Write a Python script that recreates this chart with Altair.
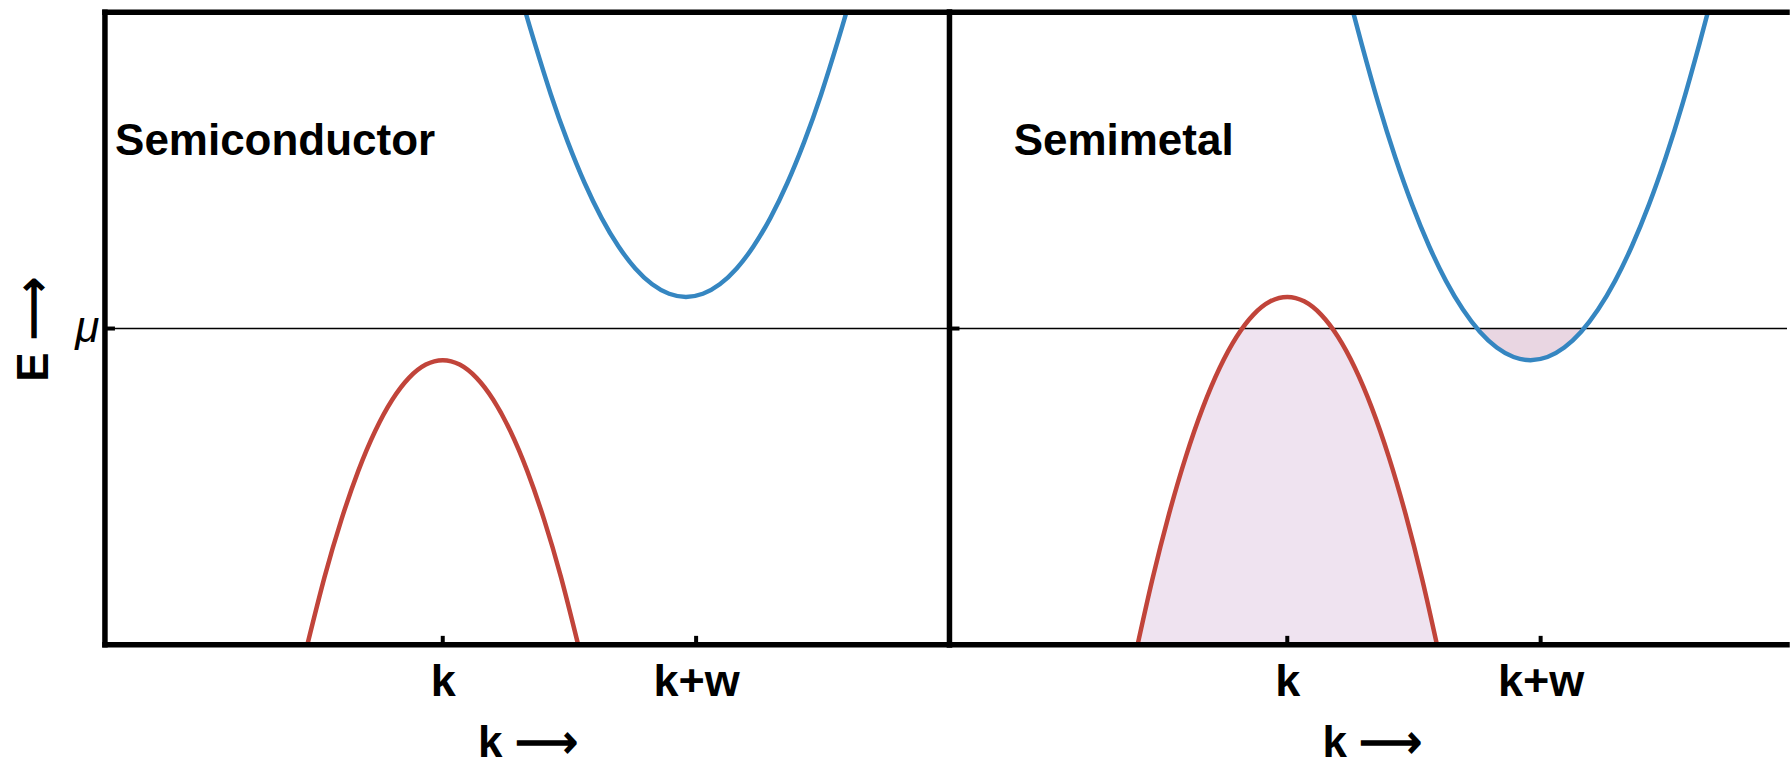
import altair as alt
import pandas as pd

# Band edges E(k) around the chemical potential mu = 0.
# k axis: k at 0, k+w at 1.5; energies span -1..1 in each panel.
sc_cond_k = [0.49, 0.54, 0.64, 0.74, 0.84, 0.94, 1.04, 1.14, 1.24, 1.34, 1.44,
             1.54, 1.64, 1.74, 1.84, 1.94, 2.04, 2.14, 2.24, 2.34, 2.39]
sc_cond_E = [1.00, 0.91, 0.74, 0.59, 0.46, 0.35, 0.26, 0.19, 0.14, 0.11, 0.10,
             0.11, 0.14, 0.19, 0.26, 0.35, 0.46, 0.59, 0.74, 0.91, 1.00]
sc_val_k = [-0.8, -0.7, -0.6, -0.5, -0.4, -0.3, -0.2, -0.1, 0.0,
            0.1, 0.2, 0.3, 0.4, 0.5, 0.6, 0.7, 0.8]
sc_val_E = [-0.996, -0.786, -0.604, -0.450, -0.324, -0.226, -0.156, -0.114, -0.100,
            -0.114, -0.156, -0.226, -0.324, -0.450, -0.604, -0.786, -0.996]

sm_cond_k = [0.39, 0.44, 0.54, 0.64, 0.74, 0.84, 0.94, 1.04, 1.14, 1.24, 1.34, 1.44,
             1.54, 1.64, 1.74, 1.84, 1.94, 2.04, 2.14, 2.24, 2.34, 2.44, 2.49]
sm_cond_E = [1.00, 0.90, 0.71, 0.54, 0.39, 0.26, 0.15, 0.06, -0.01, -0.06, -0.09, -0.10,
             -0.09, -0.06, -0.01, 0.06, 0.15, 0.26, 0.39, 0.54, 0.71, 0.90, 1.00]
sm_val_k = [-0.89, -0.8, -0.7, -0.6, -0.5, -0.4, -0.3, -0.2, -0.1, 0.0,
            0.1, 0.2, 0.3, 0.4, 0.5, 0.6, 0.7, 0.8, 0.89]
sm_val_E = [-1.009, -0.796, -0.586, -0.404, -0.250, -0.124, -0.026, 0.044, 0.086, 0.100,
            0.086, 0.044, -0.026, -0.124, -0.250, -0.404, -0.586, -0.796, -1.009]

# where the semimetal bands cut mu (occupied electron / hole pockets)
sm_val_mu_cross = [-0.267, 0.267]
sm_cond_mu_cross = [1.124, 1.756]

tick_k = [0.0, 1.5]
tick_text = ["k", "k+w"]
panel_names = ["Semiconductor", "Semimetal"]

BLUE = "#3586C1"
RED = "#C1443A"
HOLE_FILL = "#EFE3F0"
ELECTRON_FILL = "#E9D6E2"
FONT = "Liberation Sans"
H = 633
W_LEFT = 845
W_RIGHT = 838          # right panel runs up to the page edge
K_MIN = -2.0
K_MAX_LEFT = 3.0
K_MAX_RIGHT = K_MIN + W_RIGHT / (W_LEFT / (K_MAX_LEFT - K_MIN))
FRAME_W = 5.5
CURVE_W = 4.5

label_expr = "datum.value == 0 ? '%s' : '%s'" % (tick_text[0], tick_text[1])


def band(ks, es):
    return pd.DataFrame({"k": ks, "E": es})


def panel(cond, val, name, name_k, k_max, width, left_axis, fills=None, right_frame=True):
    xs = alt.Scale(domain=[K_MIN, k_max], nice=False, zero=False)
    ys = alt.Scale(domain=[-1, 1], nice=False, zero=False)
    x_axis = alt.Axis(
        values=tick_k, labelExpr=label_expr, ticks=False, domain=False, grid=False,
        labelFont=FONT, labelFontSize=45, labelFontWeight="bold", labelColor="black",
        labelPadding=15, labelFlush=False,
        titleFont=FONT, titleFontSize=44, titleFontWeight="bold", titleColor="black",
        titleX=422.5, titleY=112, titleBaseline="alphabetic", titleAlign="center",
    )
    if left_axis:
        y_axis = alt.Axis(
            values=[0], labelExpr="'μ'", ticks=False, domain=False, grid=False,
            labelFont=FONT, labelFontSize=44, labelFontStyle="italic",
            labelFontWeight="normal", labelColor="black", labelPadding=6,
            titleFont=FONT, titleFontSize=44, titleFontWeight="bold", titleColor="black",
            titleAngle=270, titleX=-57.5, titleY=317, titleBaseline="alphabetic",
            titleAlign="center",
        )
        Y = alt.Y("E:Q", scale=ys, axis=y_axis, title="E ⟶")
    else:
        Y = alt.Y("E:Q", scale=ys, axis=None)
    X = alt.X("k:Q", scale=xs, axis=x_axis, title="k ⟶")

    layers = []
    if fills is not None:
        hole_df, elec_df = fills
        layers.append(
            alt.Chart(hole_df).mark_area(color=HOLE_FILL, opacity=1, interpolate="monotone")
            .encode(x=X, y=Y, y2=alt.Y2("floor:Q"))
        )
        layers.append(
            alt.Chart(elec_df).mark_area(color=ELECTRON_FILL, opacity=1, interpolate="monotone")
            .encode(x=X, y=Y, y2=alt.Y2("mu:Q"))
        )
    # chemical potential
    layers.append(
        alt.Chart(pd.DataFrame({"E": [0.0]})).mark_rule(color="black", strokeWidth=1.6)
        .encode(y=Y)
    )
    layers.append(
        alt.Chart(val).mark_line(color=RED, strokeWidth=CURVE_W, interpolate="natural", clip=True)
        .encode(x=X, y=Y, order="k:Q")
    )
    layers.append(
        alt.Chart(cond).mark_line(color=BLUE, strokeWidth=CURVE_W, interpolate="natural", clip=True)
        .encode(x=X, y=Y, order="k:Q")
    )
    layers.append(
        alt.Chart(pd.DataFrame({"k": [name_k], "E": [0.549], "t": [name]}))
        .mark_text(font=FONT, fontSize=44, fontWeight="bold", color="black",
                   align="left", baseline="alphabetic")
        .encode(x=X, y=Y, text="t:N")
    )
    # frame
    layers.append(
        alt.Chart(pd.DataFrame({"E": [1.0, -1.0]}))
        .mark_rule(color="black", strokeWidth=FRAME_W, strokeCap="square")
        .encode(y=Y)
    )
    if right_frame:
        layers.append(
            alt.Chart(pd.DataFrame({"k": [K_MIN, k_max]}))
            .mark_rule(color="black", strokeWidth=FRAME_W, strokeCap="square")
            .encode(x=X)
        )
    # inward tick marks at k, k+w and at mu
    layers.append(
        alt.Chart(pd.DataFrame({"k": tick_k, "E": [-1.0, -1.0]}))
        .mark_tick(orient="vertical", color="black", opacity=1, size=9, thickness=4,
                   yOffset=-4.5)
        .encode(x=X, y=Y)
    )
    layers.append(
        alt.Chart(pd.DataFrame({"k": [K_MIN], "E": [0.0]}))
        .mark_tick(orient="horizontal", color="black", opacity=1, size=10, thickness=4,
                   xOffset=5)
        .encode(x=X, y=Y)
    )
    return alt.layer(*layers).properties(width=width, height=H)


sc_cond = band(sc_cond_k, sc_cond_E)
sc_val = band(sc_val_k, sc_val_E)
sm_cond = band(sm_cond_k, sm_cond_E)
sm_val = band(sm_val_k, sm_val_E)

# occupied part of the valence band below mu, and electron pocket below mu
hole = pd.concat([sm_val[sm_val.E < 0], band(sm_val_mu_cross, [0.0, 0.0])]).sort_values("k")
hole["floor"] = -1.0
elec = pd.concat([sm_cond[sm_cond.E < 0], band(sm_cond_mu_cross, [0.0, 0.0])]).sort_values("k")
elec["mu"] = 0.0

left = panel(sc_cond, sc_val, panel_names[0], -1.94, K_MAX_LEFT, W_LEFT, True)
right = panel(sm_cond, sm_val, panel_names[1], -1.62, K_MAX_RIGHT, W_RIGHT, False,
              fills=(hole, elec), right_frame=False)

chart = (
    alt.hconcat(left, right, spacing=0, bounds="flush")
    .properties(padding={"left": 12, "top": 8, "right": 0, "bottom": 0}, background="white")
    .configure_view(strokeWidth=0)
)

chart.save("out.html", embed_options={"renderer": "svg", "actions": False})
